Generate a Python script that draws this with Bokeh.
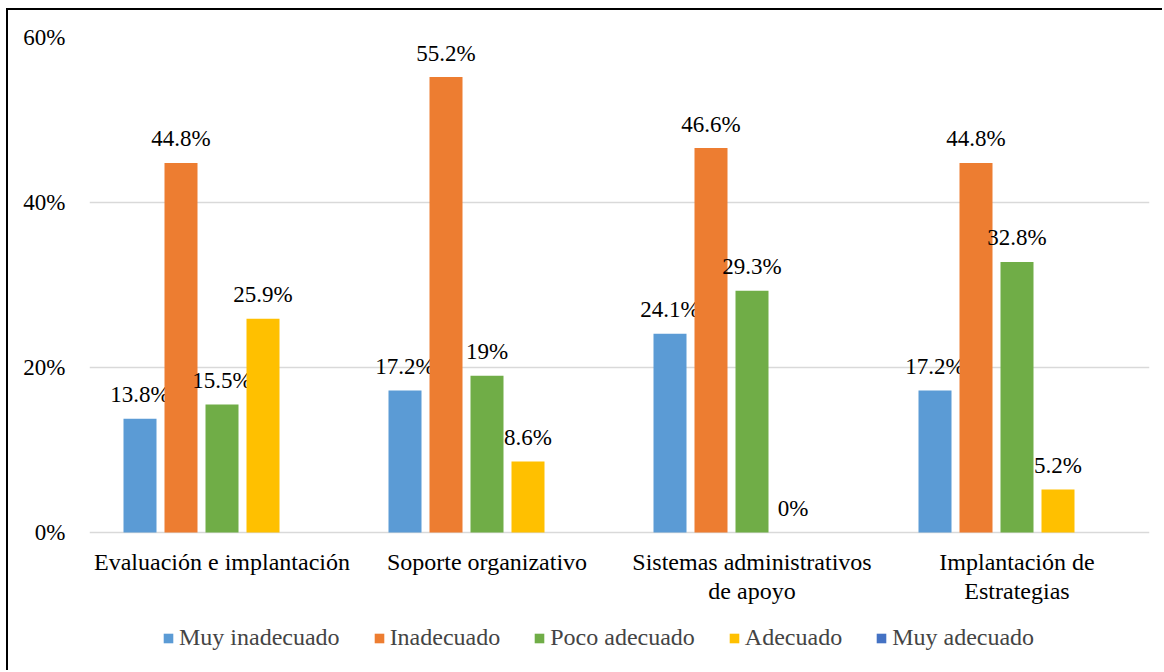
from bokeh.plotting import figure
from bokeh.models import (ColumnDataSource, FactorRange, Range1d, FixedTicker,
                          PrintfTickFormatter, Legend, LegendItem)
from bokeh.transform import dodge
from bokeh.core.properties import value
from bokeh.embed import file_html
from bokeh.resources import INLINE

categories = ["Evaluación e implantación", "Soporte organizativo",
              "Sistemas administrativos\nde apoyo", "Implantación de\nEstrategias"]
series_names = ["Muy inadecuado", "Inadecuado", "Poco adecuado", "Adecuado", "Muy adecuado"]
muy_inadecuado = [13.8, 17.2, 24.1, 17.2]
inadecuado = [44.8, 55.2, 46.6, 44.8]
poco_adecuado = [15.5, 19.0, 29.3, 32.8]
adecuado = [25.9, 8.6, 0.0, 5.2]
muy_adecuado = [None, None, None, None]
y_ticks = [0, 20, 40, 60]

colors = ["#5B9BD5", "#ED7D31", "#70AD47", "#FFC000", "#4472C4"]
series = [muy_inadecuado, inadecuado, poco_adecuado, adecuado, muy_adecuado]

FONT = '"Liberation Serif"'

p = figure(width=1156, height=662, x_range=FactorRange(*categories),
           y_range=Range1d(-15.76, 60), output_backend="svg", toolbar_location=None,
           min_border_left=81, min_border_right=15, min_border_top=27,
           min_border_bottom=10)
p.outline_line_color = None
p.background_fill_color = "white"
p.border_fill_color = "white"
p.styles = {"border-left": "2px solid black", "border-top": "2px solid black",
            "margin-left": "6px", "margin-top": "8px"}

step = 41 / 265.0
bw = 33 / 265.0
renderers = []
for i, (name, vals, col) in enumerate(zip(series_names, series, colors)):
    ys = [float("nan") if v is None else v for v in vals]
    labels = ["" if v is None else f"{v:g}%" for v in vals]
    src = ColumnDataSource(dict(cat=categories, val=ys, lab=labels))
    off = (i - 2) * step
    r = p.vbar(x=dodge("cat", off, range=p.x_range), top="val", width=bw,
               source=src, fill_color=col, line_color=None)
    renderers.append(r)
    if any(v is not None for v in vals):
        p.text(x=dodge("cat", off, range=p.x_range), y="val", text="lab", source=src,
               text_align="center", text_baseline="alphabetic", y_offset=-24,
               text_font=value(FONT), text_font_size="23px", text_color="#000000")

p.xgrid.grid_line_color = None
p.ygrid.grid_line_color = "#d9d9d9"
p.ygrid.grid_line_width = 1.5
p.yaxis.ticker = FixedTicker(ticks=y_ticks)
p.ygrid.ticker = FixedTicker(ticks=y_ticks)
p.yaxis.formatter = PrintfTickFormatter(format="%d%%")
for ax in (p.xaxis, p.yaxis):
    ax.axis_line_color = None
    ax.major_tick_line_color = None
    ax.minor_tick_line_color = None
    ax.major_label_text_font = FONT
    ax.major_label_text_color = "#000000"
p.yaxis.major_label_text_font_size = "23px"
p.xaxis.major_label_text_font_size = "24px"
p.xaxis.major_label_text_line_height = 1.08
p.yaxis.major_label_standoff = 18
p.xaxis.major_label_standoff = 11
p.xaxis.fixed_location = 0

legend = Legend(items=[LegendItem(label=n, renderers=[r]) for n, r in zip(series_names, renderers)],
                orientation="horizontal", location=(73, 11),
                label_text_font=FONT, label_text_font_size="24px",
                label_standoff=5, spacing=33, glyph_width=12, glyph_height=12,
                padding=0, margin=0, border_line_color=None,
                background_fill_alpha=0)
p.add_layout(legend, "center")

open("out.html", "w").write(file_html(p, INLINE))
